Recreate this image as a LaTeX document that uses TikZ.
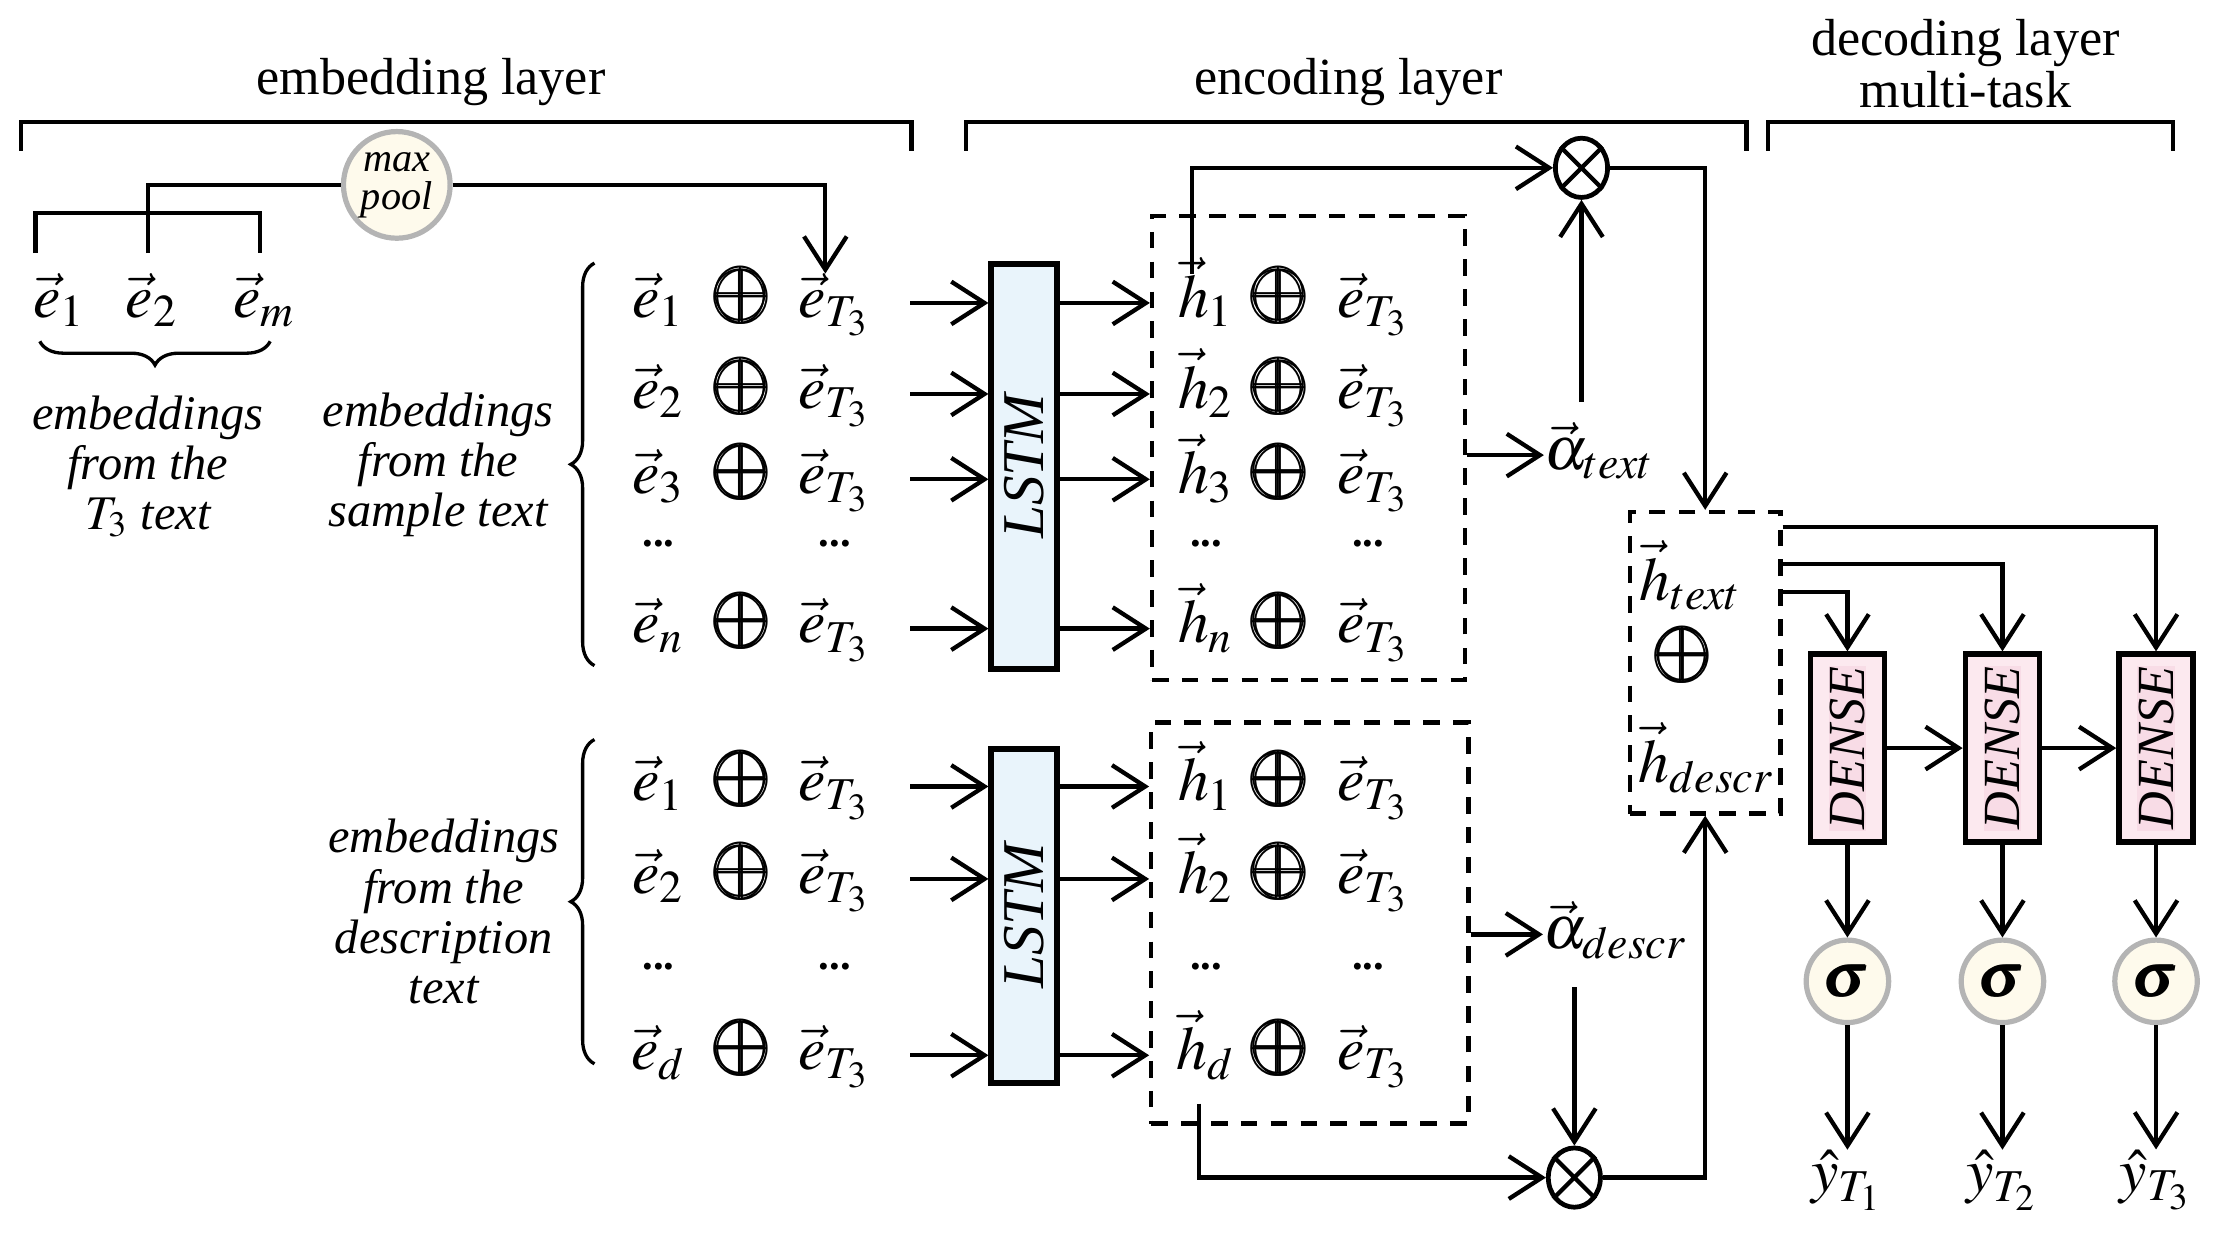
\documentclass[tikz,border=0pt]{standalone}
\usepackage{amsmath}
\usepackage{graphicx}
\usepackage{mathptmx}
\usepackage[no-math]{fontspec}
\setmainfont{Liberation Serif}
\usepackage{xcolor}
\usetikzlibrary{arrows.meta,calc,shapes.geometric,decorations.pathreplacing}
\definecolor{lstmfill}{HTML}{E9F4FB}
\definecolor{densefill}{HTML}{FCE9EF}
\definecolor{densetext}{HTML}{F8DCE6}
\definecolor{sigfill}{HTML}{FEFAEC}
\definecolor{sigline}{HTML}{B4B4B4}
\newcommand{\bplus}{\scalebox{1.25}[1.35]{$\pmb{\oplus}$}}
\tikzset{
	conn/.style={line width=0.9pt},
	arr/.style={conn, -{Straight Barb[length=7pt,width=9pt,line width=0.9pt]}},
	vecnode/.style={inner sep=0pt, text height=9pt, text depth=3pt, font=\fontsize{13}{15}\selectfont},
	dotsnode/.style={inner sep=0pt, font=\bfseries\fontsize{9}{9}\selectfont},
	lstmbox/.style={draw, line width=1.2pt, fill=lstmfill, minimum width=13.8pt, inner sep=0pt},
	lstmtext/.style={rotate=90, inner sep=0pt, font=\itshape\fontsize{12.5}{13}\selectfont},
	densebox/.style={draw, line width=1.2pt, fill=densefill, minimum width=15.6pt, minimum height=39.6pt, inner sep=0pt},
	densetxt/.style={rotate=90, inner sep=0.3pt, fill=densetext, font=\itshape\fontsize{11}{11}\selectfont},
	dashbox/.style={draw, dash pattern=on 3.5pt off 2.8pt, line width=0.9pt, inner sep=0pt},
	softcirc/.style={circle, draw=sigline, line width=1.1pt, fill=sigfill, inner sep=0pt},
	mulcirc/.style={ellipse, draw, line width=1pt, minimum width=11pt, minimum height=12.5pt, inner sep=0pt},
	caption/.style={align=center, inner sep=0pt, font=\itshape\fontsize{10.2}{10.6}\selectfont},
	layertitle/.style={align=center, inner sep=0pt, font=\fontsize{11}{11}\selectfont},
	bracebar/.style={line width=0.7pt, decorate},
}
\begin{document}
\begin{tikzpicture}[x=0.3pt, y=-0.3pt]
	\useasboundingbox (0,0) rectangle (1568,870);

	% Layer titles and brackets
	\node[layertitle] (tEmb) at (303,58) {embedding layer};
	\node[layertitle] (tEnc) at (948,58) {encoding layer};
	\node[layertitle] (tDec) at (1382,45) {decoding layer\\multi-task};
	\draw[conn] (15,106) -- (15,86) -- (641,86) -- (641,106);
	\draw[conn] (679,106) -- (679,86) -- (1228,86) -- (1228,106);
	\draw[conn] (1243,106) -- (1243,86) -- (1528,86) -- (1528,106);

	% T3 text embeddings and max pool
	\node[vecnode] (te1) at (42,213) {$\vec{e}_1$};
	\node[vecnode] (te2) at (107,213) {$\vec{e}_2$};
	\node[vecnode] (tem) at (186,213) {$\vec{e}_m$};
	\node[softcirc, minimum size=22.5pt, align=center, font=\itshape\fontsize{8.5}{8}\selectfont] (pool) at (279,130) {max\\pool};
	\coordinate (b1) at (25,178);
	\coordinate (b2) at (104,178);
	\coordinate (b3) at (183,178);
	\draw[conn] (b1) -- ++(0,-28) -| (b3);
	\draw[conn] (b2) |- (pool.west);
	\draw[bracebar, decoration={brace, mirror, amplitude=5pt}] (28,240) -- (190,240);
	\node[caption] (capT) at (104,328) {embeddings\\from the\\$T_3$ text};

	% Sample text rows
	\node[lstmbox, minimum height=85.5pt] (lstmA) at (720,328) {};
	\node[lstmtext] (lstmAt) at (lstmA) {LSTM};
	\node[dashbox, minimum width=66pt, minimum height=97.8pt] (boxA) at (920,315) {};
	\foreach \i/\y/\s in {1/213/1, 2/277/2, 3/337/3, 4/442/n} {
		\node[vecnode] (sa\i) at (463,\y) {$\vec{e}_{\s}$};
		\node[vecnode] (sp\i) at (522,\y) {\bplus};
		\node[vecnode] (st\i) at (587,\y) {$\vec{e}_{T_3}$};
		\node[vecnode] (ha\i) at (848,\y) {$\vec{h}_{\s}$};
		\node[vecnode] (hp\i) at (900,\y) {\bplus};
		\node[vecnode] (ht\i) at (966,\y) {$\vec{e}_{T_3}$};
		\coordinate (si\i) at (640,\y);
		\draw[arr] (si\i) -- (si\i -| lstmA.west);
		\draw[arr] (lstmA.east |- si\i) -- (boxA.west |- si\i);
	}
	\foreach \x/\n in {463/1, 587/2, 848/3, 962/4} {
		\node[dotsnode] (sd\n) at (\x,382) {...};
	}
	\draw[bracebar, decoration={brace, amplitude=5pt}] (418,468) -- (418,185);
	\node[caption] (capS) at (308,327) {embeddings\\from the\\sample text};
	\draw[arr] (pool.east) -| ([xshift=-2pt]st1.north);

	% Description text rows
	\node[lstmbox, minimum height=70.5pt] (lstmB) at (720,644) {};
	\node[lstmtext] (lstmBt) at (lstmB) {LSTM};
	\node[dashbox, minimum width=66.9pt, minimum height=84.6pt] (boxB) at (921,649) {};
	\foreach \i/\y/\s in {1/553/1, 2/618/2, 4/742/d} {
		\node[vecnode] (da\i) at (463,\y) {$\vec{e}_{\s}$};
		\node[vecnode] (dp\i) at (522,\y) {\bplus};
		\node[vecnode] (dt\i) at (587,\y) {$\vec{e}_{T_3}$};
		\node[vecnode] (hb\i) at (848,\y) {$\vec{h}_{\s}$};
		\node[vecnode] (hq\i) at (900,\y) {\bplus};
		\node[vecnode] (hu\i) at (966,\y) {$\vec{e}_{T_3}$};
		\coordinate (di\i) at (640,\y);
		\draw[arr] (di\i) -- (di\i -| lstmB.west);
		\draw[arr] (lstmB.east |- di\i) -- (boxB.west |- di\i);
	}
	\foreach \x/\n in {463/1, 587/2, 848/3, 962/4} {
		\node[dotsnode] (dd\n) at (\x,680) {...};
	}
	\draw[bracebar, decoration={brace, amplitude=5pt}] (418,748) -- (418,520);
	\node[caption] (capD) at (312,641) {embeddings\\from the\\description\\text};

	% Attention for the sample text
	\node[vecnode] (alphaA) at (1125,320) {$\vec{\alpha}_{text}$};
	\node[mulcirc] (mulA) at (1112,118) {};
	\draw[conn] (mulA.45) -- (mulA.225) (mulA.135) -- (mulA.315);
	\draw[arr] (boxA.east |- alphaA.west) -- (alphaA.west);
	\draw[arr, shorten <=5pt] (alphaA.north -| mulA.south) -- (mulA.south);
	\draw[arr] ([xshift=-3pt]ha1.north) |- (mulA.west);

	% Attention for the description text
	\node[vecnode] (alphaB) at (1136,657) {$\vec{\alpha}_{descr}$};
	\node[mulcirc] (mulB) at (1107,828) {};
	\draw[conn] (mulB.45) -- (mulB.225) (mulB.135) -- (mulB.315);
	\draw[arr] (boxB.east |- alphaB.west) -- (alphaB.west);
	\draw[arr, shorten <=5pt] (alphaB.south -| mulB.north) -- (mulB.north);
	\draw[arr, shorten <=4pt] ([xshift=-1.5pt]hb4.south) |- (mulB.west);

	% Concatenation
	\node[dashbox, minimum width=31.8pt, minimum height=63.6pt] (hcat) at (1199,466) {};
	\node[vecnode] (hcat1) at (1189,412) {$\vec{h}_{text}$};
	\node[vecnode] (hcat2) at (1184,466) {\bplus};
	\node[vecnode] (hcat3) at (1200,540) {$\vec{h}_{descr}$};
	\draw[arr] (mulA.east) -| (hcat.north);
	\draw[arr] (mulB.east) -| (hcat.south);

	% Multi-task decoding
	\foreach \i/\x/\dy in {1/1299/58, 2/1408/38, 3/1516/12} {
		\node[densebox] (dense\i) at (\x,526) {};
		\node[densetxt] (denseT\i) at (dense\i) {DENSE};
		\node[softcirc, minimum size=17.4pt, font=\fontsize{13}{13}\selectfont] (sig\i) at (\x,690) {$\pmb{\sigma}$};
		\node[inner sep=0pt, font=\fontsize{13}{15}\selectfont] (yhat\i) at (\x,830) {$\hat{y}_{T_\i}$};
		\coordinate (cat\i) at ($(hcat.north east)+(0,\dy)$);
		\draw[arr] (cat\i) -| (dense\i.north);
		\draw[arr] (dense\i.south) -- (sig\i.north);
		\draw[arr] (sig\i.south) -- (yhat\i.north);
	}
	\draw[arr] (dense1.east) -- (dense2.west);
	\draw[arr] (dense2.east) -- (dense3.west);
\end{tikzpicture}
\end{document}
